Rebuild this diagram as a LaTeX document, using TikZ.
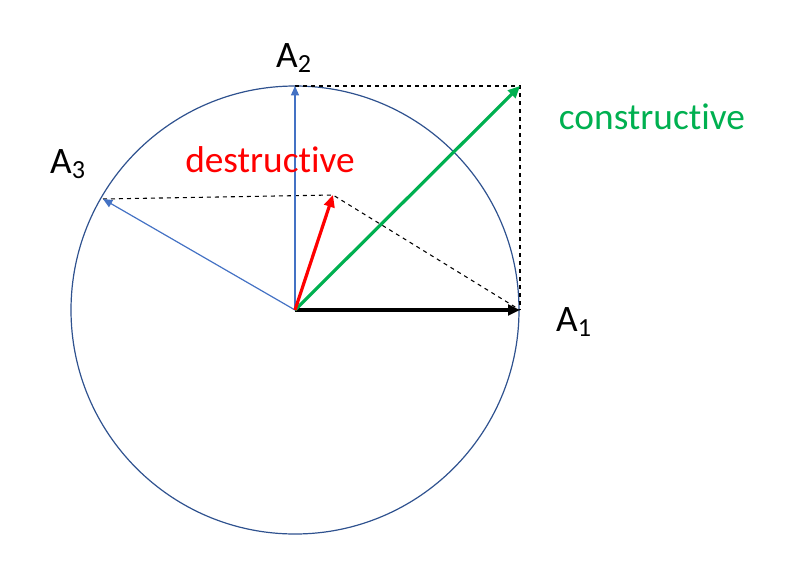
\documentclass[tikz,border=0pt]{standalone}
\usepackage{fontspec}
\setmainfont[Ligatures=NoCommon]{Carlito}
\usetikzlibrary{arrows.meta}
\definecolor{circ}{RGB}{47,82,143}
\definecolor{bl}{RGB}{68,114,196}
\definecolor{gr}{RGB}{0,176,80}
\begin{document}
\begin{tikzpicture}[x=0.75pt,y=-0.75pt,
  lab/.style={font=\fontsize{28}{32}\selectfont},
  thin arr/.style={bl,line width=0.9pt,-{Triangle[length=7pt,width=6pt]}},
  big arr/.style={line width=2.4pt,-{Triangle[length=9pt,width=8pt]}},
  dsh/.style={dashed,line width=0.8pt}]
\useasboundingbox (0,0) rectangle (800,565);
\coordinate (O) at (295,310);
\coordinate (A1) at (520,310);
\coordinate (A2) at (295,86);
\coordinate (A3) at (103,199);
\coordinate (R) at (333,195);
\coordinate (G) at (520,86);
\draw[circ,line width=0.9pt] (O) circle[radius=224];
\draw[dsh] (A3) -- (R) -- (A1);
\draw[dsh] (A2) -- (G) -- (A1);
\draw[thin arr] (O) -- (A2);
\draw[thin arr] (O) -- (A3);
\draw[big arr,black] (O) -- (A1);
\draw[big arr,gr] (O) -- (G);
\draw[big arr,red] (O) -- (R);
\node[lab] (l1) at (574,322) {A\textsubscript{1}};
\node[lab] (l2) at (294,58) {A\textsubscript{2}};
\node[lab] (l3) at (68,164) {A\textsubscript{3}};
\node[lab,red] (ld) at (270,160) {destructive};
\node[lab,gr] (lc) at (652,117) {constructive};
\end{tikzpicture}
\end{document}
